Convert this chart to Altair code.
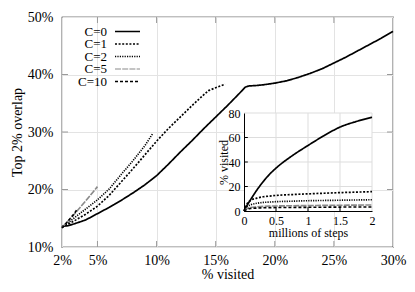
import altair as alt
import pandas as pd

FONT = "Liberation Serif"

series = ["C=0", "C=1", "C=2", "C=5", "C=10"]
colors = ["#000000", "#000000", "#000000", "#8a8a8a", "#000000"]
dashes = [[1, 0], [2, 1.6], [1.2, 1.2], [6, 1.2], [3, 2]]
widths = [1.7, 1.6, 1.4, 1.2, 1.5]

# main plot: % visited -> top 2% overlap
c0_x = [2, 2.5, 3, 4, 5, 6, 7, 8, 9, 10, 11, 12, 13, 14, 15, 16, 17, 17.5, 17.8, 18.5, 19, 20, 21, 22, 23, 24, 25, 26, 27, 28, 29, 30]
c0_y = [13.6, 13.7, 14.0, 14.7, 15.8, 16.9, 18.1, 19.4, 20.8, 22.4, 24.4, 26.5, 28.5, 30.6, 32.6, 34.6, 36.7, 37.8, 38.0, 38.1, 38.2, 38.5, 38.9, 39.5, 40.2, 41.0, 42.0, 43.0, 44.1, 45.2, 46.3, 47.5]
c1_x = [2, 3, 4, 5, 6, 7, 8, 9, 10, 11, 12, 13, 14, 14.4, 15, 15.8]
c1_y = [13.4, 14.5, 15.7, 17.1, 19.0, 21.3, 23.6, 26.0, 28.4, 30.6, 32.6, 34.6, 36.5, 37.2, 37.7, 38.3]
c2_x = [2, 3, 4, 5, 6, 7, 8, 9, 9.7]
c2_y = [13.4, 15.0, 16.6, 18.2, 20.1, 22.6, 25.0, 27.6, 29.8]
c5_x = [2, 3, 4, 5]
c5_y = [13.4, 15.6, 18.0, 20.5]
c10_x = [2, 2.5, 3, 3.3]
c10_y = [13.3, 14.5, 15.7, 16.6]

# inset: millions of steps -> % visited
steps = [0, 0.05, 0.1, 0.2, 0.3, 0.4, 0.5, 0.75, 1, 1.25, 1.5, 1.75, 2]
in_c0 = [0, 4.8, 9, 17, 24, 30, 35, 45, 53.5, 61.5, 68.5, 73, 76.5]
in_c1 = [0, 6, 8.5, 10.5, 11.6, 12.2, 12.7, 13.4, 14.0, 14.5, 15.0, 15.4, 15.8]
in_c2 = [0, 3.5, 5, 6.3, 7.0, 7.3, 7.6, 8.0, 8.4, 8.6, 8.8, 9.0, 9.2]
in_c5 = [0, 2.0, 2.8, 3.4, 3.8, 4.0, 4.1, 4.3, 4.4, 4.6, 4.7, 4.8, 4.9]
in_c10 = [0, 1.5, 2.0, 2.4, 2.6, 2.7, 2.8, 2.9, 3.0, 3.1, 3.2, 3.25, 3.3]

x_ticks = [2, 5, 10, 15, 20, 25, 30]
y_ticks = [10, 20, 30, 40, 50]
in_x_ticks = [0, 0.5, 1, 1.5, 2]
in_y_ticks = [0, 20, 40, 60, 80]

W, H = 331, 230

main_rows = []
for s, xs, ys in zip(series, [c0_x, c1_x, c2_x, c5_x, c10_x], [c0_y, c1_y, c2_y, c5_y, c10_y]):
    for i, (a, b) in enumerate(zip(xs, ys)):
        main_rows.append({"series": s, "pct": a, "overlap": b, "order": i})
main_df = pd.DataFrame(main_rows)

in_rows = []
for s, ys in zip(series, [in_c0, in_c1, in_c2, in_c5, in_c10]):
    for i, (a, b) in enumerate(zip(steps, ys)):
        in_rows.append({"series": s, "steps": a, "vis": b, "order": i})
in_df = pd.DataFrame(in_rows)

color_enc = alt.Color("series:N", scale=alt.Scale(domain=series, range=colors), legend=None)
dash_enc = alt.StrokeDash("series:N", scale=alt.Scale(domain=series, range=dashes), legend=None)
width_enc = alt.StrokeWidth("series:N", scale=alt.Scale(domain=series, range=widths), legend=None)

# ---------- main ----------
mx_scale = alt.Scale(domain=[2, 30], nice=False, zero=False)
my_scale = alt.Scale(domain=[10, 50], nice=False, zero=False)
mx_axis = alt.Axis(values=x_ticks, labelExpr="datum.value + '%'", title="% visited",
                   grid=True, gridColor="#e3e3e3", ticks=False, domain=False,
                   labelPadding=6, labelFlush=False, labelOverlap=False,
                   labelFontSize=14, titleFontSize=14, titleFontWeight="normal",
                   titleX=W / 2, titleY=27, titleBaseline="middle",
                   labelColor="black", titleColor="black")
my_axis = alt.Axis(values=y_ticks, labelExpr="datum.value + '%'", title="Top 2% overlap",
                   grid=True, gridColor="#e3e3e3", ticks=False, domain=False,
                   labelPadding=9, labelOverlap=False, labelFontSize=14, titleFontSize=14,
                   titleFontWeight="normal", titleAngle=270, titleX=-45, titleY=H / 2,
                   titleBaseline="middle", labelColor="black", titleColor="black")

main_lines = alt.Chart(main_df).mark_line().encode(
    x=alt.X("pct:Q", scale=mx_scale, axis=mx_axis),
    y=alt.Y("overlap:Q", scale=my_scale, axis=my_axis),
    color=color_enc, strokeDash=dash_enc, strokeWidth=width_enc,
    order="order:Q", detail="series:N",
)

xt_df = pd.DataFrame({"pct": x_ticks[1:-1]})
yt_df = pd.DataFrame({"overlap": y_ticks[1:-1]})
stub = "#9a9a9a"
xt_bot = alt.Chart(xt_df).mark_rule(color=stub).encode(
    x=alt.X("pct:Q", scale=mx_scale, axis=mx_axis), y=alt.value(H), y2=alt.value(H - 6))
xt_top = alt.Chart(xt_df).mark_rule(color=stub).encode(
    x=alt.X("pct:Q", scale=mx_scale, axis=mx_axis), y=alt.value(0), y2=alt.value(6))
yt_left = alt.Chart(yt_df).mark_rule(color=stub).encode(
    y=alt.Y("overlap:Q", scale=my_scale, axis=my_axis), x=alt.value(0), x2=alt.value(6))
yt_right = alt.Chart(yt_df).mark_rule(color=stub).encode(
    y=alt.Y("overlap:Q", scale=my_scale, axis=my_axis), x=alt.value(W), x2=alt.value(W - 6))

legend_layers = []
for i, (s, c, d, w) in enumerate(zip(series, colors, dashes, widths)):
    yy = 14.5 + 12.5 * i
    legend_layers.append(
        alt.Chart(alt.Data(values=[{"label": s}])).mark_text(
            align="right", baseline="middle", fontSize=13, font=FONT, color="black"
        ).encode(text="label:N", x=alt.value(45), y=alt.value(yy))
    )
    legend_layers.append(
        alt.Chart(alt.Data(values=[{"label": s}])).mark_rule(
            color=c, strokeDash=d, strokeWidth=w
        ).encode(x=alt.value(53), x2=alt.value(78), y=alt.value(yy))
    )

main = alt.layer(main_lines, xt_bot, xt_top, yt_left, yt_right, *legend_layers)

# ---------- inset ----------
ix_scale = alt.Scale(domain=[0, 2], range=[182, 310], nice=False, zero=False)
iy_scale = alt.Scale(domain=[0, 80], range=[194, 96], nice=False, zero=False)
ix_axis = alt.Axis(orient="bottom", offset=-36, values=in_x_ticks, labelExpr="datum.value + ''",
                   title="millions of steps", grid=False, ticks=False, labelPadding=4,
                   labelFlush=False, labelOverlap=False, domainColor="black", zindex=1,
                   labelFontSize=12, titleFontSize=12, titleFontWeight="normal",
                   titleX=246, titleY=21, titleBaseline="middle",
                   labelColor="black", titleColor="black")
iy_axis = alt.Axis(orient="left", offset=-182, values=in_y_ticks, labelExpr="datum.value + ''",
                   title="% visited", grid=False, ticks=False, labelPadding=4,
                   labelOverlap=False, domainColor="black", zindex=1,
                   labelFontSize=12, titleFontSize=12, titleFontWeight="normal",
                   titleAngle=270, titleX=-21, titleY=145, titleBaseline="middle",
                   labelColor="black", titleColor="black")

IX = lambda f="steps": alt.X(f"{f}:Q", scale=ix_scale, axis=ix_axis)
IY = lambda f="vis": alt.Y(f"{f}:Q", scale=iy_scale, axis=iy_axis)

bg = alt.Chart(alt.Data(values=[{"steps": 0, "steps_end": 2, "vis": 0, "vis_end": 80}])).mark_rect(
    color="white").encode(x=IX(), x2="steps_end:Q", y=IY(), y2="vis_end:Q")

igx = alt.Chart(pd.DataFrame({"steps": in_x_ticks[1:], "vis": 0, "vis_end": 80})).mark_rule(
    color="#dddddd").encode(x=IX(), y=IY(), y2="vis_end:Q")
igy = alt.Chart(pd.DataFrame({"vis": in_y_ticks[1:], "steps": 0, "steps_end": 2})).mark_rule(
    color="#dddddd").encode(y=IY(), x=IX(), x2="steps_end:Q")

itx = alt.Chart(pd.DataFrame({"steps": in_x_ticks[1:-1], "vis": 0, "vis_end": 3.2})).mark_rule(
    color="black").encode(x=IX(), y=IY(), y2="vis_end:Q")
ity = alt.Chart(pd.DataFrame({"vis": in_y_ticks[1:-1], "steps": 0, "steps_end": 0.06})).mark_rule(
    color="black").encode(y=IY(), x=IX(), x2="steps_end:Q")

in_lines = alt.Chart(in_df).mark_line(interpolate="monotone").encode(
    x=IX(), y=IY(), color=color_enc, strokeDash=dash_enc, strokeWidth=width_enc,
    order="order:Q", detail="series:N",
)

inset = alt.layer(bg, igx, igy, itx, ity, in_lines)

chart = alt.layer(main, inset).resolve_scale(
    x="independent", y="independent"
).properties(
    width=W, height=H,
    autosize=alt.AutoSizeParams(type="none"),
    padding={"left": 54, "top": 9, "right": 14, "bottom": 37},
).configure(
    font=FONT,
).configure_view(
    stroke="black", strokeWidth=1.2
).configure_axis(
    labelFont=FONT, titleFont=FONT
)

chart.save("out.html", embed_options={"renderer": "svg", "actions": False})
